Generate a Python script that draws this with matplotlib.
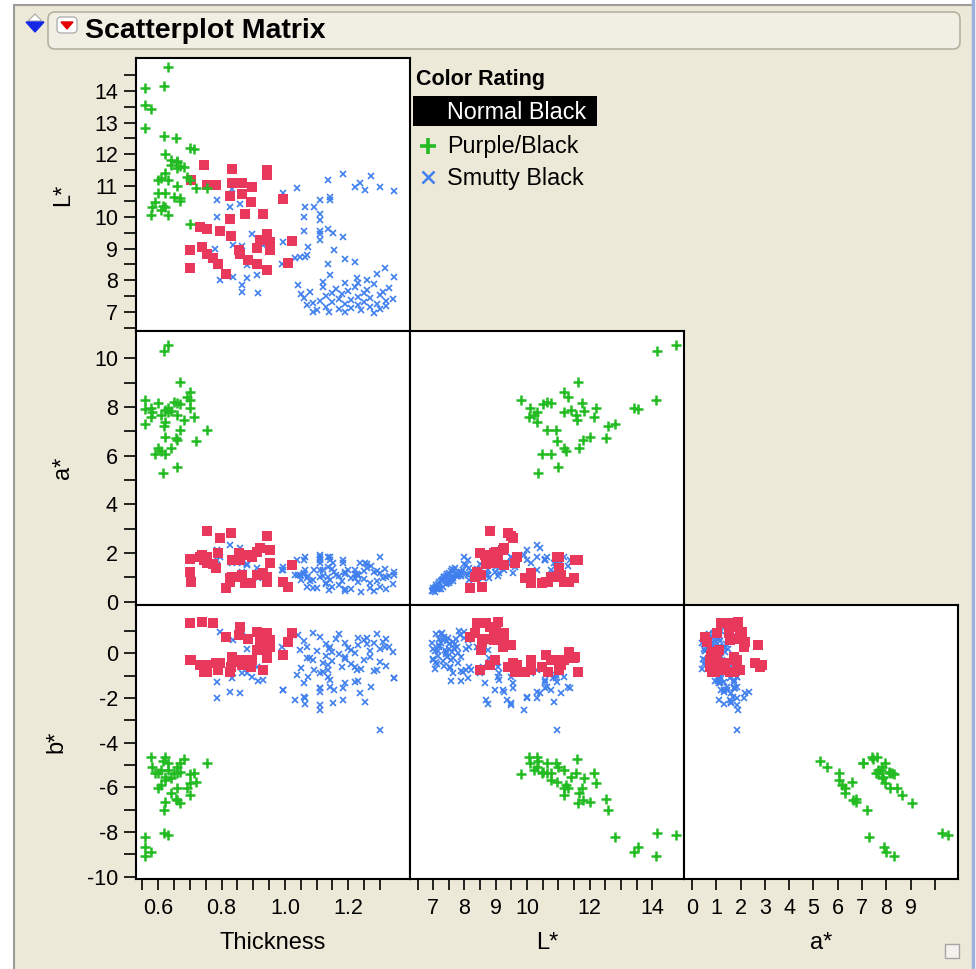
import numpy as np
import matplotlib
matplotlib.use('Agg')
import matplotlib.pyplot as plt
from matplotlib.patches import Rectangle, Polygon, FancyBboxPatch

plt.rcParams['font.family'] = ['Liberation Sans', 'DejaVu Sans']

# ---- data (one entry per row of the table) ----
# Normal Black
normal_thick = [0.746, 0.704, 0.753, 0.782, 0.832, 0.832, 0.864, 0.895, 0.943, 0.943,
                0.827, 0.864, 0.893, 0.993, 0.874, 0.932, 0.827, 0.732, 0.753, 0.795,
                0.700, 0.737, 0.774, 0.753, 0.856, 0.885, 0.911, 0.921, 0.943, 0.953,
                0.953, 0.911, 0.943, 1.022, 1.011, 0.814, 0.700, 0.858, 0.830, 0.790]
normal_L = [11.64, 11.17, 11.03, 11.03, 11.52, 11.09, 11.07, 10.96, 11.49, 11.33,
            10.67, 10.75, 10.48, 10.59, 10.11, 10.11, 9.93, 9.69, 9.61, 9.56,
            8.97, 9.06, 8.69, 8.82, 8.95, 8.64, 9.01, 9.27, 9.48, 9.22,
            8.95, 8.53, 8.32, 9.25, 8.56, 8.19, 8.40, 8.82, 9.40, 8.50]
normal_a = [1.71, 0.82, 1.85, 1.37, 1.71, 1.03, 1.10, 1.85, 0.96, 0.82,
            0.82, 1.03, 0.75, 0.80, 0.75, 1.17, 0.96, 1.85, 1.58, 2.60,
            1.74, 1.90, 1.55, 2.90, 1.99, 1.92, 2.05, 2.19, 2.70, 2.12,
            1.58, 1.10, 1.03, 1.52, 0.60, 0.55, 1.20, 1.71, 2.81, 1.99]
normal_b = [-0.83, -0.30, -0.75, -0.45, -0.15, -0.38, -0.53, -0.30, -0.23, 0.07,
            -0.82, -0.30, -0.60, -0.08, -0.30, -0.75, -0.83, -0.52, -0.82, -0.45,
            -0.30, 1.41, 1.34, -0.53, 0.82, 0.62, 0.96, 0.52, 0.37, 0.29,
            0.60, 0.15, 0.89, 0.90, 0.52, 0.74, 1.34, 1.19, -0.60, -0.75]

# Purple/Black
purple_thick = [0.631, 0.619, 0.558, 0.558, 0.576, 0.558, 0.619, 0.656,
                0.669, 0.700, 0.712, 0.660, 0.640, 0.700, 0.690, 0.620, 0.660, 0.680,
                0.630, 0.600, 0.650, 0.670, 0.580, 0.610, 0.630, 0.700, 0.577, 0.620,
                0.670, 0.755, 0.720, 0.600, 0.610, 0.640, 0.660, 0.620, 0.590, 0.620,
                0.658, 0.616]
purple_L = [14.77, 14.16, 14.10, 13.55, 13.42, 12.82, 12.58, 12.52,
            11.63, 12.20, 12.15, 11.76, 11.81, 11.18, 11.29, 11.39, 11.55, 11.60,
            11.18, 10.76, 10.65, 10.50, 10.33, 10.23, 10.08, 9.80, 10.07, 10.33,
            10.62, 10.92, 10.94, 11.18, 11.23, 11.66, 11.77, 12.00, 10.49, 10.76,
            10.99, 10.35]
purple_a = [10.55, 10.30, 8.30, 7.90, 7.97, 7.29, 7.20, 6.74,
            9.04, 7.94, 7.57, 8.17, 7.84, 8.63, 8.42, 7.88, 7.67, 7.47,
            7.80, 8.15, 8.22, 8.12, 7.81, 7.67, 7.95, 8.30, 7.60, 7.40,
            7.05, 7.05, 6.59, 6.30, 6.18, 6.30, 6.64, 6.77, 6.07, 6.07,
            5.55, 5.27]
purple_b = [-8.13, -8.03, -9.08, -8.66, -8.88, -8.22, -7.02, -6.54,
            -6.72, -5.79, -5.37, -6.04, -5.60, -6.34, -6.04, -5.53, -5.37, -4.75,
            -5.23, -5.37, -5.37, -5.30, -5.08, -5.23, -4.93, -5.40, -4.63, -4.63,
            -4.90, -4.93, -5.75, -6.04, -5.90, -6.27, -6.57, -6.64, -5.37, -5.67,
            -5.08, -4.82]

# Smutty Black
smutty_thick = [1.06, 1.07, 1.08, 1.10, 1.11, 1.12, 1.13, 1.13, 1.14, 1.15,
                1.15, 1.16, 1.17, 1.17, 1.18, 1.19, 1.19, 1.20, 1.21, 1.21,
                1.22, 1.23, 1.23, 1.24, 1.25, 1.25, 1.26, 1.27, 1.27, 1.28,
                1.29, 1.30, 1.30, 1.31, 1.32, 1.32, 1.33, 1.34, 1.04, 1.05,
                1.09, 1.12, 1.26, 1.19, 1.09, 1.28,
                0.785, 0.827, 0.858, 0.785, 0.834, 0.993, 1.037, 0.779, 0.837, 0.864,
                0.897, 0.932, 0.995, 1.032, 1.064, 0.795, 0.837, 0.880, 0.911, 0.864,
                0.864, 0.916, 0.880, 0.990, 1.137, 1.185, 1.220, 1.237, 1.253, 1.271,
                1.300, 1.346, 1.110, 1.142, 1.142, 1.064, 1.092, 1.060, 1.110, 1.110,
                1.060, 1.110, 1.137, 1.153, 1.110, 1.110, 1.074, 1.155, 1.185, 1.069,
                1.048, 1.137, 1.190, 1.220, 1.142, 1.227, 1.232, 1.290, 1.316, 1.343]
smutty_L = [7.45, 7.20, 7.62, 7.05, 7.35, 7.78, 7.50, 7.15, 7.00, 7.60,
            7.30, 7.72, 7.10, 7.42, 7.55, 7.25, 6.98, 7.65, 7.38, 7.12,
            7.80, 7.48, 7.20, 7.05, 7.58, 7.32, 7.70, 7.15, 7.45, 7.88,
            7.25, 7.52, 7.08, 7.62, 7.35, 7.18, 7.75, 7.40, 7.85, 7.55,
            7.28, 7.95, 8.00, 7.90, 7.00, 6.95,
            10.56, 10.31, 10.41, 10.00, 10.91, 10.77, 10.93, 9.00, 9.11, 9.08,
            9.48, 9.11, 9.22, 8.69, 8.74, 8.00, 8.11, 8.06, 8.16, 7.84,
            7.63, 7.58, 8.48, 8.53, 11.17, 11.36, 10.96, 11.07, 10.85, 11.31,
            10.95, 10.82, 10.56, 10.64, 10.56, 10.32, 10.32, 10.00, 10.11, 9.90,
            9.56, 9.56, 9.61, 9.50, 9.48, 9.27, 9.06, 8.97, 9.37, 8.79,
            8.74, 8.53, 8.66, 8.58, 8.16, 8.06, 7.90, 8.20, 8.40, 8.10]
smutty_a = [1.15, 0.62, 0.85, 0.55, 1.02, 1.05, 0.78, 0.72, 0.48, 1.35,
            0.62, 1.08, 0.70, 1.05, 0.85, 0.52, 0.45, 1.30, 0.95, 0.50,
            1.12, 1.10, 0.80, 0.40, 1.25, 0.92, 1.40, 0.55, 0.75, 1.20,
            0.85, 1.18, 0.62, 0.98, 1.00, 0.52, 1.05, 0.72, 1.10, 0.88,
            0.90, 1.30, 1.55, 1.20, 0.55, 0.42,
            1.71, 2.33, 2.19, 2.12, 1.58, 1.30, 1.71, 1.44, 1.71, 1.58,
            1.85, 1.17, 1.44, 1.10, 1.30, 1.85, 1.71, 1.50, 1.40, 1.20,
            1.05, 0.95, 1.55, 1.30, 1.85, 1.71, 1.30, 1.60, 1.60, 1.45,
            1.84, 1.20, 1.75, 1.85, 1.71, 1.85, 1.30, 1.70, 1.58, 1.90,
            1.17, 1.71, 1.44, 1.60, 1.85, 1.30, 1.05, 1.20, 1.58, 0.95,
            1.10, 1.00, 1.12, 0.98, 0.90, 1.15, 1.05, 1.25, 1.35, 1.10]
smutty_b = [0.55, 0.30, -0.20, 0.10, 0.72, -0.45, 0.40, -0.10, 0.20, 0.05,
            -0.35, 0.62, 0.85, -0.05, -0.60, 0.48, -0.25, 0.25, 0.15, -0.50,
            0.00, 0.70, 0.35, -0.70, -0.30, 0.58, 0.40, 0.10, -0.15, -0.80,
            0.88, 0.20, -0.40, 0.50, -0.55, 0.65, 0.30, 0.05, 0.80, -0.65,
            0.92, -0.85, 0.68, -0.15, -0.30, 0.45,
            -1.27, -1.72, -1.77, -2.02, -1.12, -1.64, -0.97, -0.45, -0.90, -0.60,
            -1.05, -1.20, -1.65, -2.09, -2.27, 0.94, 0.60, 0.20, -0.60, 1.00,
            -0.90, -1.26, -0.90, 0.30, -1.05, -1.57, -1.27, -1.79, -2.17, -1.50,
            -3.44, -1.12, -1.57, -1.50, -1.20, -2.02, -0.75, -1.94, -0.90, -2.54,
            -1.35, -1.57, -0.53, -2.24, -2.32, -1.72, -1.05, -1.65, -2.09, -0.23,
            0.15, -0.75, -1.35, -0.60, 0.29, -0.75, -1.25, -0.75, 0.29, -1.12]

groups = [
    ('Smutty Black', smutty_thick, smutty_L, smutty_a, smutty_b),
    ('Normal Black', normal_thick, normal_L, normal_a, normal_b),
    ('Purple/Black', purple_thick, purple_L, purple_a, purple_b),
]
col_green = '#22BB22'
col_red = '#E8385C'
col_blue = '#3F7FEE'
styles = {
    'Normal Black': dict(marker='s', ms=6.6, mew=0, color=col_red),
    'Purple/Black': dict(marker='+', ms=7.5, mew=1.8, color=col_green),
    'Smutty Black': dict(marker='x', ms=4.0, mew=1.2, color=col_blue),
}

W, H = 976, 969
fig = plt.figure(figsize=(W / 100, H / 100), dpi=100)
fig.patch.set_facecolor('white')

# background / window chrome drawn in pixel coordinates
bg = fig.add_axes([0, 0, 1, 1])
bg.set_xlim(0, W)
bg.set_ylim(H, 0)
bg.axis('off')
bg.add_patch(Rectangle((14, 5), W - 17, H, facecolor='#ECE9D8', edgecolor='#9C9C9C', lw=1.5))
bg.plot([973, 973], [0, H], color='#9DB1DE', lw=2.5)
bg.add_patch(FancyBboxPatch((48, 12), 912, 37, boxstyle='round,pad=0,rounding_size=7',
                            facecolor='#F1EFE4', edgecolor='#B5B2A0', lw=1.2))
bg.add_patch(Polygon([(28, 21), (42, 21), (35, 14)], closed=True, facecolor='white',
                     edgecolor='#A8A8A8', lw=0.8))
bg.add_patch(Polygon([(26, 22), (44, 22), (35, 32)], closed=True, color='#1428E6'))
bg.add_patch(FancyBboxPatch((57, 17), 20, 16, boxstyle='round,pad=0,rounding_size=4',
                            facecolor='white', edgecolor='#B0B0B0', lw=1))
bg.add_patch(Polygon([(61, 22), (73, 22), (67, 29)], closed=True, color='#E40000'))
bg.text(85, 31, 'Scatterplot Matrix', fontsize=20.5, fontweight='bold', va='center', ha='left')
bg.add_patch(Rectangle((945, 944), 14, 14, facecolor='#F3F2EC', edgecolor='#A5A5A5', lw=1))

# legend
bg.text(416, 79, 'Color Rating', fontsize=15.5, fontweight='bold', va='center', ha='left')
bg.add_patch(Rectangle((413, 96), 184, 30, facecolor='black', edgecolor='none'))
bg.text(447, 112, 'Normal Black', fontsize=16.8, color='white', va='center', ha='left')
bg.plot([428], [146], marker='+', ms=11, mew=2.6, color=col_green, ls='none')
bg.text(447, 146, 'Purple/Black', fontsize=16.8, va='center', ha='left')
bg.plot([428], [177], marker='x', ms=8.5, mew=1.8, color=col_blue, ls='none')
bg.text(447, 178, 'Smutty Black', fontsize=16.8, va='center', ha='left')

# panel geometry (pixels)
col_x = [(136, 410), (410, 684), (684, 958)]
row_y = [(58, 331), (331, 605), (605, 879)]

x_vars = ['Thickness', 'L*', 'a*']
y_vars = ['L*', 'a*', 'b*']
x_lims = {'Thickness': (0.53, 1.395), 'L*': (6.26, 15.01), 'a*': (-0.33, 10.95)}
y_lims = {'L*': (6.39, 15.05), 'a*': (-0.14, 11.12), 'b*': (-10.1, 2.16)}
x_ticks = {
    'Thickness': (np.arange(0.55, 1.301, 0.05), [0.6, 0.8, 1.0, 1.2], '{:.1f}'),
    'L*': (np.arange(6.5, 14.01, 0.5), [7, 8, 9, 10, 12, 14], '{:.0f}'),
    'a*': (np.arange(0, 10.01, 1), list(range(10)), '{:.0f}'),
}
y_ticks = {
    'L*': (np.arange(6.5, 14.51, 0.5), list(range(7, 15)), '{:.0f}'),
    'a*': (np.arange(0, 10.01, 1), [0, 2, 4, 6, 8, 10], '{:.0f}'),
    'b*': (np.arange(-10, 1.01, 1), [0, -2, -4, -6, -8, -10], '{:.0f}'),
}
col_of = {'Thickness': 1, 'L*': 2, 'a*': 3, 'b*': 4}


def make_labels(ticks, labelled, fmt):
    out = []
    for t in ticks:
        if any(abs(t - v) < 1e-6 for v in labelled):
            out.append(fmt.format(t))
        else:
            out.append('')
    return out


for r in range(3):
    for c in range(r + 1):
        x0, x1 = col_x[c]
        y0, y1 = row_y[r]
        ax = fig.add_axes([x0 / W, 1 - y1 / H, (x1 - x0) / W, (y1 - y0) / H])
        ax.set_facecolor('white')
        xv, yv = x_vars[c], y_vars[r]
        for g in groups:
            ax.plot(g[col_of[xv]], g[col_of[yv]], ls='none', **styles[g[0]])
        ax.set_xlim(*x_lims[xv])
        ax.set_ylim(*y_lims[yv])
        for s in ax.spines.values():
            s.set_linewidth(1.5)
            s.set_color('black')
        if r == 2:
            t, lab, fmt = x_ticks[xv]
            ax.set_xticks(t)
            ax.set_xticklabels(make_labels(t, lab, fmt), fontsize=15.5)
            ax.tick_params(axis='x', direction='out', length=8, width=1.2, pad=6)
            ax.set_xlabel(xv, fontsize=17, labelpad=9)
        else:
            ax.set_xticks([])
        if c == 0:
            t, lab, fmt = y_ticks[yv]
            ax.set_yticks(t)
            ax.set_yticklabels(make_labels(t, lab, fmt), fontsize=15.5)
            ax.tick_params(axis='y', direction='out', length=9, width=1.2, pad=4)
            ax.set_ylabel(yv, fontsize=17, labelpad=14)
        else:
            ax.set_yticks([])

fig.savefig('out.png', dpi=100, facecolor=fig.get_facecolor())
